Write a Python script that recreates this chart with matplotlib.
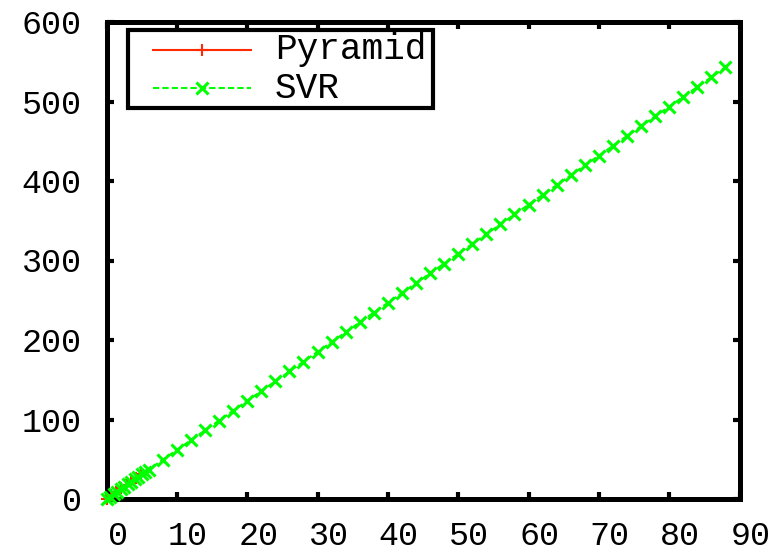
import matplotlib
matplotlib.use("Agg")
import matplotlib.pyplot as plt
import matplotlib.transforms as mtransforms
from matplotlib.lines import Line2D
from matplotlib.patches import Rectangle

plt.rcParams['font.family'] = ['Liberation Mono', 'DejaVu Sans Mono']

# Data
pyramid_x = [0.0, 0.7, 1.4, 2.1, 2.8, 3.5, 4.2, 4.9]
pyramid_y = [0.0, 4.5, 9.0, 13.5, 18.0, 22.5, 27.0, 31.5]

svr_x = [0, 0.5, 1, 1.5, 2, 2.5, 3, 3.5, 4, 4.5, 5, 5.5,
         6, 8, 10, 12, 14, 16, 18, 20, 22, 24, 26, 28, 30, 32, 34, 36, 38, 40,
         42, 44, 46, 48, 50, 52, 54, 56, 58, 60, 62, 64, 66, 68, 70, 72, 74,
         76, 78, 80, 82, 84, 86, 88]
svr_y = [0, 3.1, 6.2, 9.3, 12.3, 15.4, 18.5, 21.6, 24.7, 27.8, 30.9, 33.9,
         37.0, 49.4, 61.7, 74.0, 86.4, 98.7, 111.1, 123.4, 135.7, 148.1, 160.4,
         172.8, 185.1, 197.4, 209.8, 222.1, 234.5, 246.8, 259.1, 271.5, 283.8,
         296.2, 308.5, 320.8, 333.2, 345.5, 357.9, 370.2, 382.5, 394.9, 407.2,
         419.6, 431.9, 444.2, 456.6, 468.9, 481.3, 493.6, 505.9, 518.3, 530.6,
         543.0]

series_labels = ['Pyramid', 'SVR']
x_ticks = [0, 10, 20, 30, 40, 50, 60, 70, 80, 90]
y_ticks = [0, 100, 200, 300, 400, 500, 600]

red = '#ff2a00'
green = '#00ff00'
svr_ls = (0, (3, 1.5))

fig = plt.figure(figsize=(7.73, 5.54), dpi=100)
ax = fig.add_axes([106.5 / 773, 55 / 554, 633 / 773, 477 / 554])

ax.plot(pyramid_x, pyramid_y, color=red, lw=1.5, marker='+',
        markersize=8, markeredgewidth=1.5, clip_on=False, zorder=3)
ax.plot(svr_x, svr_y, color=green, lw=1.5, linestyle=svr_ls,
        marker='x', markersize=8.5, markeredgewidth=2.2,
        clip_on=False, zorder=4)

ax.set_xlim(0, 90)
ax.set_ylim(0, 600)
ax.set_xticks(x_ticks)
ax.set_yticks(y_ticks)

for s in ax.spines.values():
    s.set_linewidth(3.6)
    s.set_color('black')

ax.tick_params(axis='both', which='both', direction='in', length=5, width=3,
               top=True, right=True, labelsize=24, colors='black')
ax.tick_params(axis='x', pad=16)
ax.tick_params(axis='y', pad=18)

offset = mtransforms.ScaledTranslation(11 / 100, 0, fig.dpi_scale_trans)
for lab in ax.get_xticklabels():
    lab.set_transform(lab.get_transform() + offset)

# Manual gnuplot-style key
box = Rectangle((0.034, 0.8197), 0.5158 - 0.034, 0.9832 - 0.8197,
                transform=ax.transAxes, facecolor='none', edgecolor='black',
                linewidth=3.0, zorder=6)
bg = Rectangle((0.034, 0.8197), 0.5158 - 0.034, 0.9832 - 0.8197,
               transform=ax.transAxes, facecolor='white', edgecolor='none',
               zorder=5)
ax.add_patch(bg)
ax.add_patch(box)

rows = [0.9413, 0.8616]
styles = [dict(color=red, lw=1.5, linestyle='-', marker='+', markersize=8,
               markeredgewidth=1.5),
          dict(color=green, lw=1.5, linestyle=svr_ls, marker='x',
               markersize=8.5, markeredgewidth=2.2)]
for lab, yy, st in zip(series_labels, rows, styles):
    ln = Line2D([0.0735, 0.1509, 0.2283], [yy, yy, yy], transform=ax.transAxes,
                markevery=[1], zorder=5.5, **st)
    ax.add_line(ln)
    t = ax.text(0.2662, yy, lab, transform=ax.transAxes, fontsize=26,
                va='center', ha='left', zorder=5.5)
    t.set_clip_path(bg)

fig.savefig('out.png', dpi=100)
